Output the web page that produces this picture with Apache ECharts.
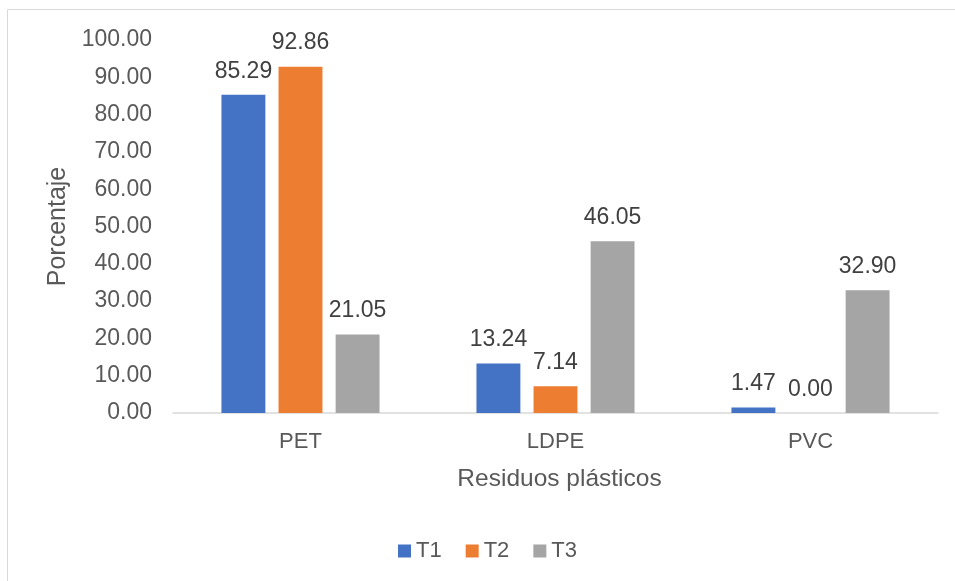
<!DOCTYPE html>
<html><head><meta charset="utf-8">
<script src="https://cdn.jsdelivr.net/npm/echarts@6/dist/echarts.min.js"></script>
<style>html,body{margin:0;padding:0;background:#fff}#c{width:955px;height:581px}</style>
</head><body><div id="c"></div>
<script>
const categories = ['PET', 'LDPE', 'PVC'];
const seriesNames = ['T1', 'T2', 'T3'];
const t1 = [85.29, 13.24, 1.47];
const t2 = [92.86, 7.14, 0.00];
const t3 = [21.05, 46.05, 32.90];
const colors = ['#4472C4', '#ED7D31', '#A5A5A5'];
const font = 'Arial, "Liberation Sans", sans-serif';
const chart = echarts.init(document.getElementById('c'));
const data = [t1, t2, t3];
chart.setOption({
  animation: false,
  graphic: [{type:'rect', shape:{x:7.5,y:9.5,width:960,height:600}, style:{fill:'none', stroke:'#d9d9d9', lineWidth:1}, z:-1}],
  grid: {left:173, right:17, top:40, bottom:168},
  legend: {bottom:19, left:398, padding:0, itemWidth:13, itemHeight:13, itemGap:24, icon:'rect',
    textStyle:{fontFamily:font, fontSize:22, color:'#595959'}, data: seriesNames},
  xAxis: {type:'category', data:categories,
    name:'Residuos plásticos', nameLocation:'middle', nameGap:54,
    nameTextStyle:{fontFamily:font, fontSize:24.5, color:'#595959', padding:[0,0,0,8]},
    axisLine:{lineStyle:{color:'#d9d9d9', width:1.5}}, axisTick:{show:false},
    axisLabel:{fontFamily:font, fontSize:22, color:'#595959', margin:18}},
  yAxis: {type:'value', min:0, max:100, interval:10,
    name:'Porcentaje', nameLocation:'middle', nameGap:101, nameRotate:90,
    nameTextStyle:{fontFamily:font, fontSize:25, color:'#595959'},
    axisLine:{show:false}, axisTick:{show:false}, splitLine:{show:false},
    axisLabel:{fontFamily:font, fontSize:23, color:'#595959', margin:21, formatter:v=>v.toFixed(2)}},
  series: seriesNames.map((n,i)=>({
    name:n, type:'bar', data:data[i], barGap:'30%', barCategoryGap:'38%',
    itemStyle:{color:colors[i]},
    label:{show:true, position:'top', distance:12, fontFamily:font, fontSize:23, color:'#404040',
      formatter:p=>p.value.toFixed(2)}
  }))
});
</script></body></html>
